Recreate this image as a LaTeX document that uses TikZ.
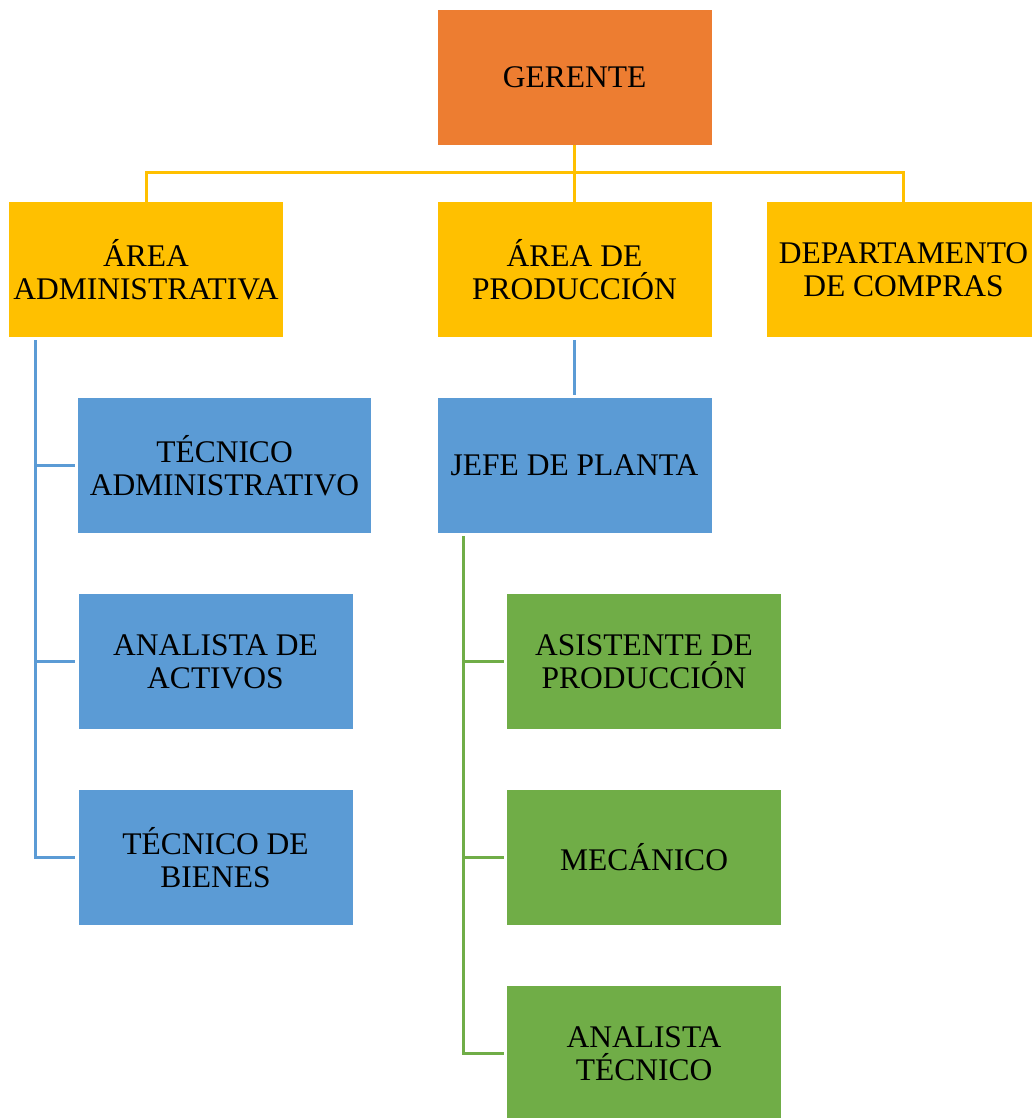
\documentclass[tikz,border=0pt]{standalone}
\usepackage{fontspec}
\setmainfont{Liberation Serif}
\definecolor{naranja}{HTML}{ED7D31}
\definecolor{amarillo}{HTML}{FFC000}
\definecolor{azul}{HTML}{5B9BD5}
\definecolor{verde}{HTML}{70AD47}
\tikzset{
  caja/.style={shape=rectangle,minimum width=274pt,minimum height=135pt,inner sep=0pt,align=center,font=\fontsize{31.5}{33}\selectfont},
  linea/.style={line width=3pt}
}
\begin{document}
\begin{tikzpicture}[x=1pt,y=-1pt]
    \useasboundingbox (0,0) rectangle (1031,1118);

    \node[caja,fill=naranja] (Gerente) at (574.5,77.5) {GERENTE};

    \node[caja,fill=amarillo] (Admin) at (146,269.5) {ÁREA\\ADMINISTRATIVA};
    \node[caja,fill=amarillo] (Prod) at (574.5,269.5) {ÁREA DE\\PRODUCCIÓN};
    \node[caja,fill=amarillo] (Compras) at (903.5,269.5) {DEPARTAMENTO\\DE COMPRAS};

    \node[caja,fill=azul,minimum width=293pt] (TecAdm) at (224.5,465.5) {TÉCNICO\\ADMINISTRATIVO};
    \node[caja,fill=azul] (Activos) at (215.5,661.5) {ANALISTA DE\\ACTIVOS};
    \node[caja,fill=azul] (Bienes) at (215.5,857.5) {TÉCNICO DE\\BIENES};

    \node[caja,fill=azul] (Jefe) at (574.5,465.5) {JEFE DE PLANTA};

    \node[caja,fill=verde] (Asist) at (644,661.5) {ASISTENTE DE\\PRODUCCIÓN};
    \node[caja,fill=verde] (Mecanico) at (644,857.5) {MECÁNICO};
    \node[caja,fill=verde] (AnTec) at (644,1053.5) {ANALISTA\\TÉCNICO};

    \draw[linea,amarillo] (Gerente.south) -- ++(0,27) -| ([yshift=-3pt]Admin.north);
    \draw[linea,amarillo] (Gerente.south) -- ([yshift=-3pt]Prod.north);
    \draw[linea,amarillo] (Gerente.south) -- ++(0,27) -| ([yshift=-3pt]Compras.north);

    \draw[linea,azul] ([xshift=27pt,yshift=-3pt]Admin.south west) |- ([xshift=-3pt]TecAdm.west);
    \draw[linea,azul] ([xshift=27pt,yshift=-3pt]Admin.south west) |- ([xshift=-3pt]Activos.west);
    \draw[linea,azul] ([xshift=27pt,yshift=-3pt]Admin.south west) |- ([xshift=-3pt]Bienes.west);
    \draw[linea,azul] ([yshift=-3pt]Prod.south) -- ([yshift=3pt]Jefe.north);

    \draw[linea,verde] ([xshift=26pt,yshift=-3pt]Jefe.south west) |- ([xshift=-3pt]Asist.west);
    \draw[linea,verde] ([xshift=26pt,yshift=-3pt]Jefe.south west) |- ([xshift=-3pt]Mecanico.west);
    \draw[linea,verde] ([xshift=26pt,yshift=-3pt]Jefe.south west) |- ([xshift=-3pt]AnTec.west);
\end{tikzpicture}
\end{document}
